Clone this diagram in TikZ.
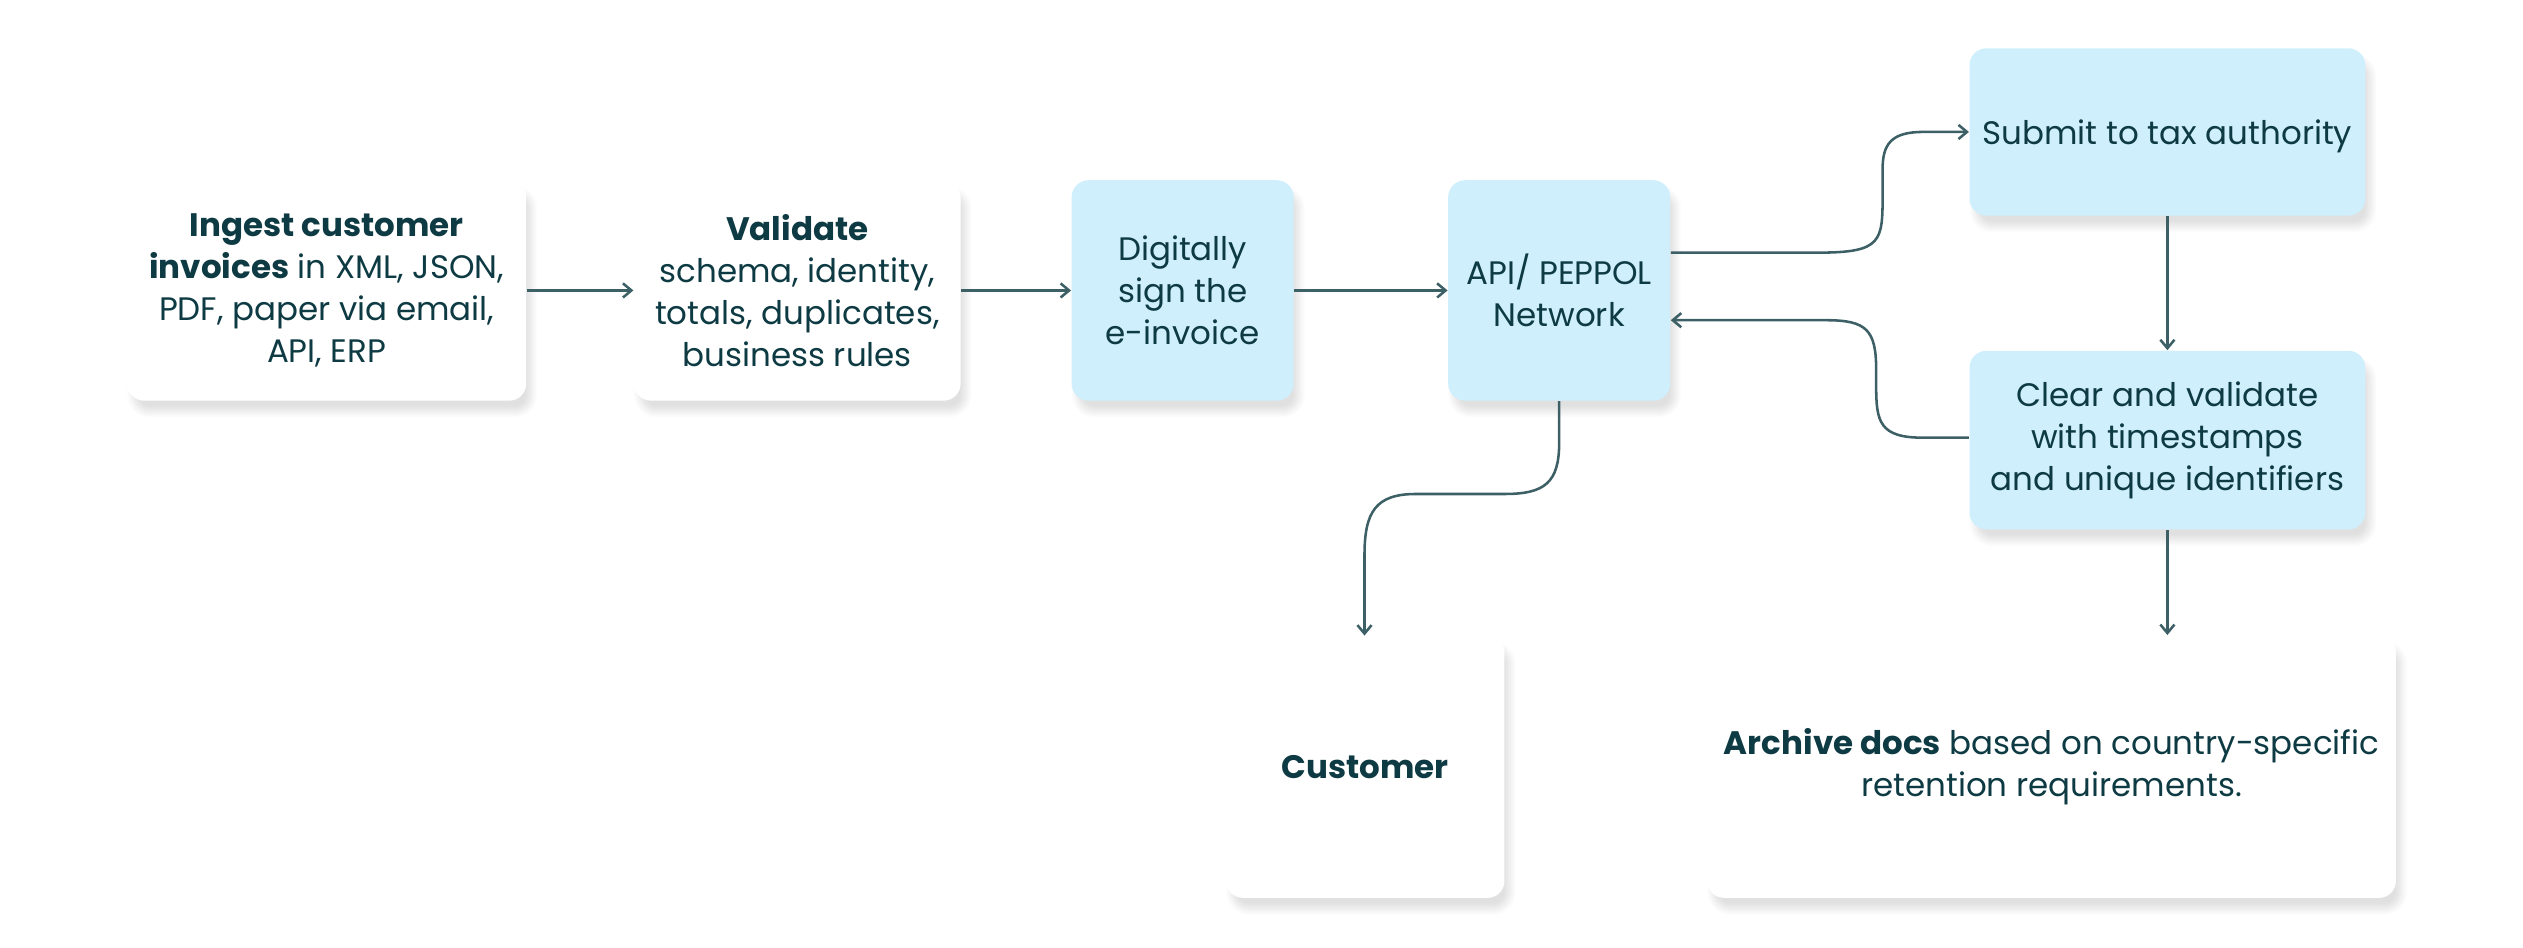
\documentclass[tikz,border=0pt]{standalone}
\usepackage{fontspec}
\setmainfont{Poppins}
\usetikzlibrary{shadows.blur,arrows.meta}
\definecolor{inktxt}{HTML}{0E3B43}
\definecolor{inkline}{HTML}{3D5F66}
\definecolor{skyfill}{HTML}{CFEFFC}
\tikzset{
  box/.style={rounded corners=6pt, fill=white, text=inktxt, align=center,
    inner sep=0pt, blur shadow={shadow blur steps=8, shadow xshift=2pt, shadow yshift=-4pt, shadow opacity=12},
    font=\fontsize{11.5}{14.8}\selectfont},
  sky/.style={box, fill=skyfill},
  flow/.style={draw=inkline, line width=0.9pt, -{Straight Barb[length=3pt,width=5pt]}}
}
\begin{document}
\begin{tikzpicture}[x=0.02cm,y=0.02cm]
  \useasboundingbox (0,0) rectangle (1568,-589);
  % boxes
  \node[box, minimum width=248*0.02cm, minimum height=137*0.02cm] (ingest) at (203,-180.5) {\textbf{Ingest customer}\\\textbf{invoices} in XML, JSON,\\PDF, paper via email,\\API, ERP};
  \node[box, minimum width=203*0.02cm, minimum height=137*0.02cm] (check) at (495.5,-180.5) {\textbf{Validate}\\schema, identity,\\totals, duplicates,\\business rules};
  \node[sky, minimum width=138*0.02cm, minimum height=137*0.02cm] (sign) at (735,-180.5) {Digitally\\sign the\\e-invoice};
  \node[sky, minimum width=138*0.02cm, minimum height=137*0.02cm] (net) at (969,-180.5) {API/ PEPPOL\\Network};
  \node[sky, minimum width=246*0.02cm, minimum height=104*0.02cm, text depth=0pt] (tax) at (1347,-82) {Submit to tax authority};
  \node[sky, minimum width=246*0.02cm, minimum height=111*0.02cm] (clear) at (1347,-273.5) {Clear and validate\\with timestamps\\and unique identifiers};
  \node[box, minimum width=173*0.02cm, minimum height=163*0.02cm] (cust) at (848.5,-476.5) {\textbf{Customer}};
  \node[box, minimum width=428*0.02cm, minimum height=163*0.02cm] (arch) at (1275,-476.5) {\textbf{Archive docs} based on country-specific\\retention requirements.};
  % connectors
  \draw[flow] (ingest) -- (check);
  \draw[flow] (check) -- (sign);
  \draw[flow] (sign) -- (net);
  \draw[flow] (net.east |- 0,-157) -- (1130,-157) .. controls (1170,-157) and (1170,-150) .. (1170,-120)
     -- (1170,-105) .. controls (1170,-90) and (1175,-82) .. (1195,-82) -- (tax.west);
  \draw[flow] (clear.west |- 0,-272) -- (1195,-272) .. controls (1168,-272) and (1166,-262) .. (1166,-240)
     -- (1166,-230) .. controls (1166,-205) and (1160,-199) .. (1135,-199) -- (net.east |- 0,-199);
  \draw[flow] (tax) -- (clear);
  \draw[flow] (clear) -- (clear |- arch.north);
  \draw[flow] (net.south) -- (969,-275) .. controls (969,-300) and (960,-307) .. (935,-307)
     -- (880,-307) .. controls (855,-307) and (848,-318) .. (848,-345) -- (848,-395);
\end{tikzpicture}
\end{document}
